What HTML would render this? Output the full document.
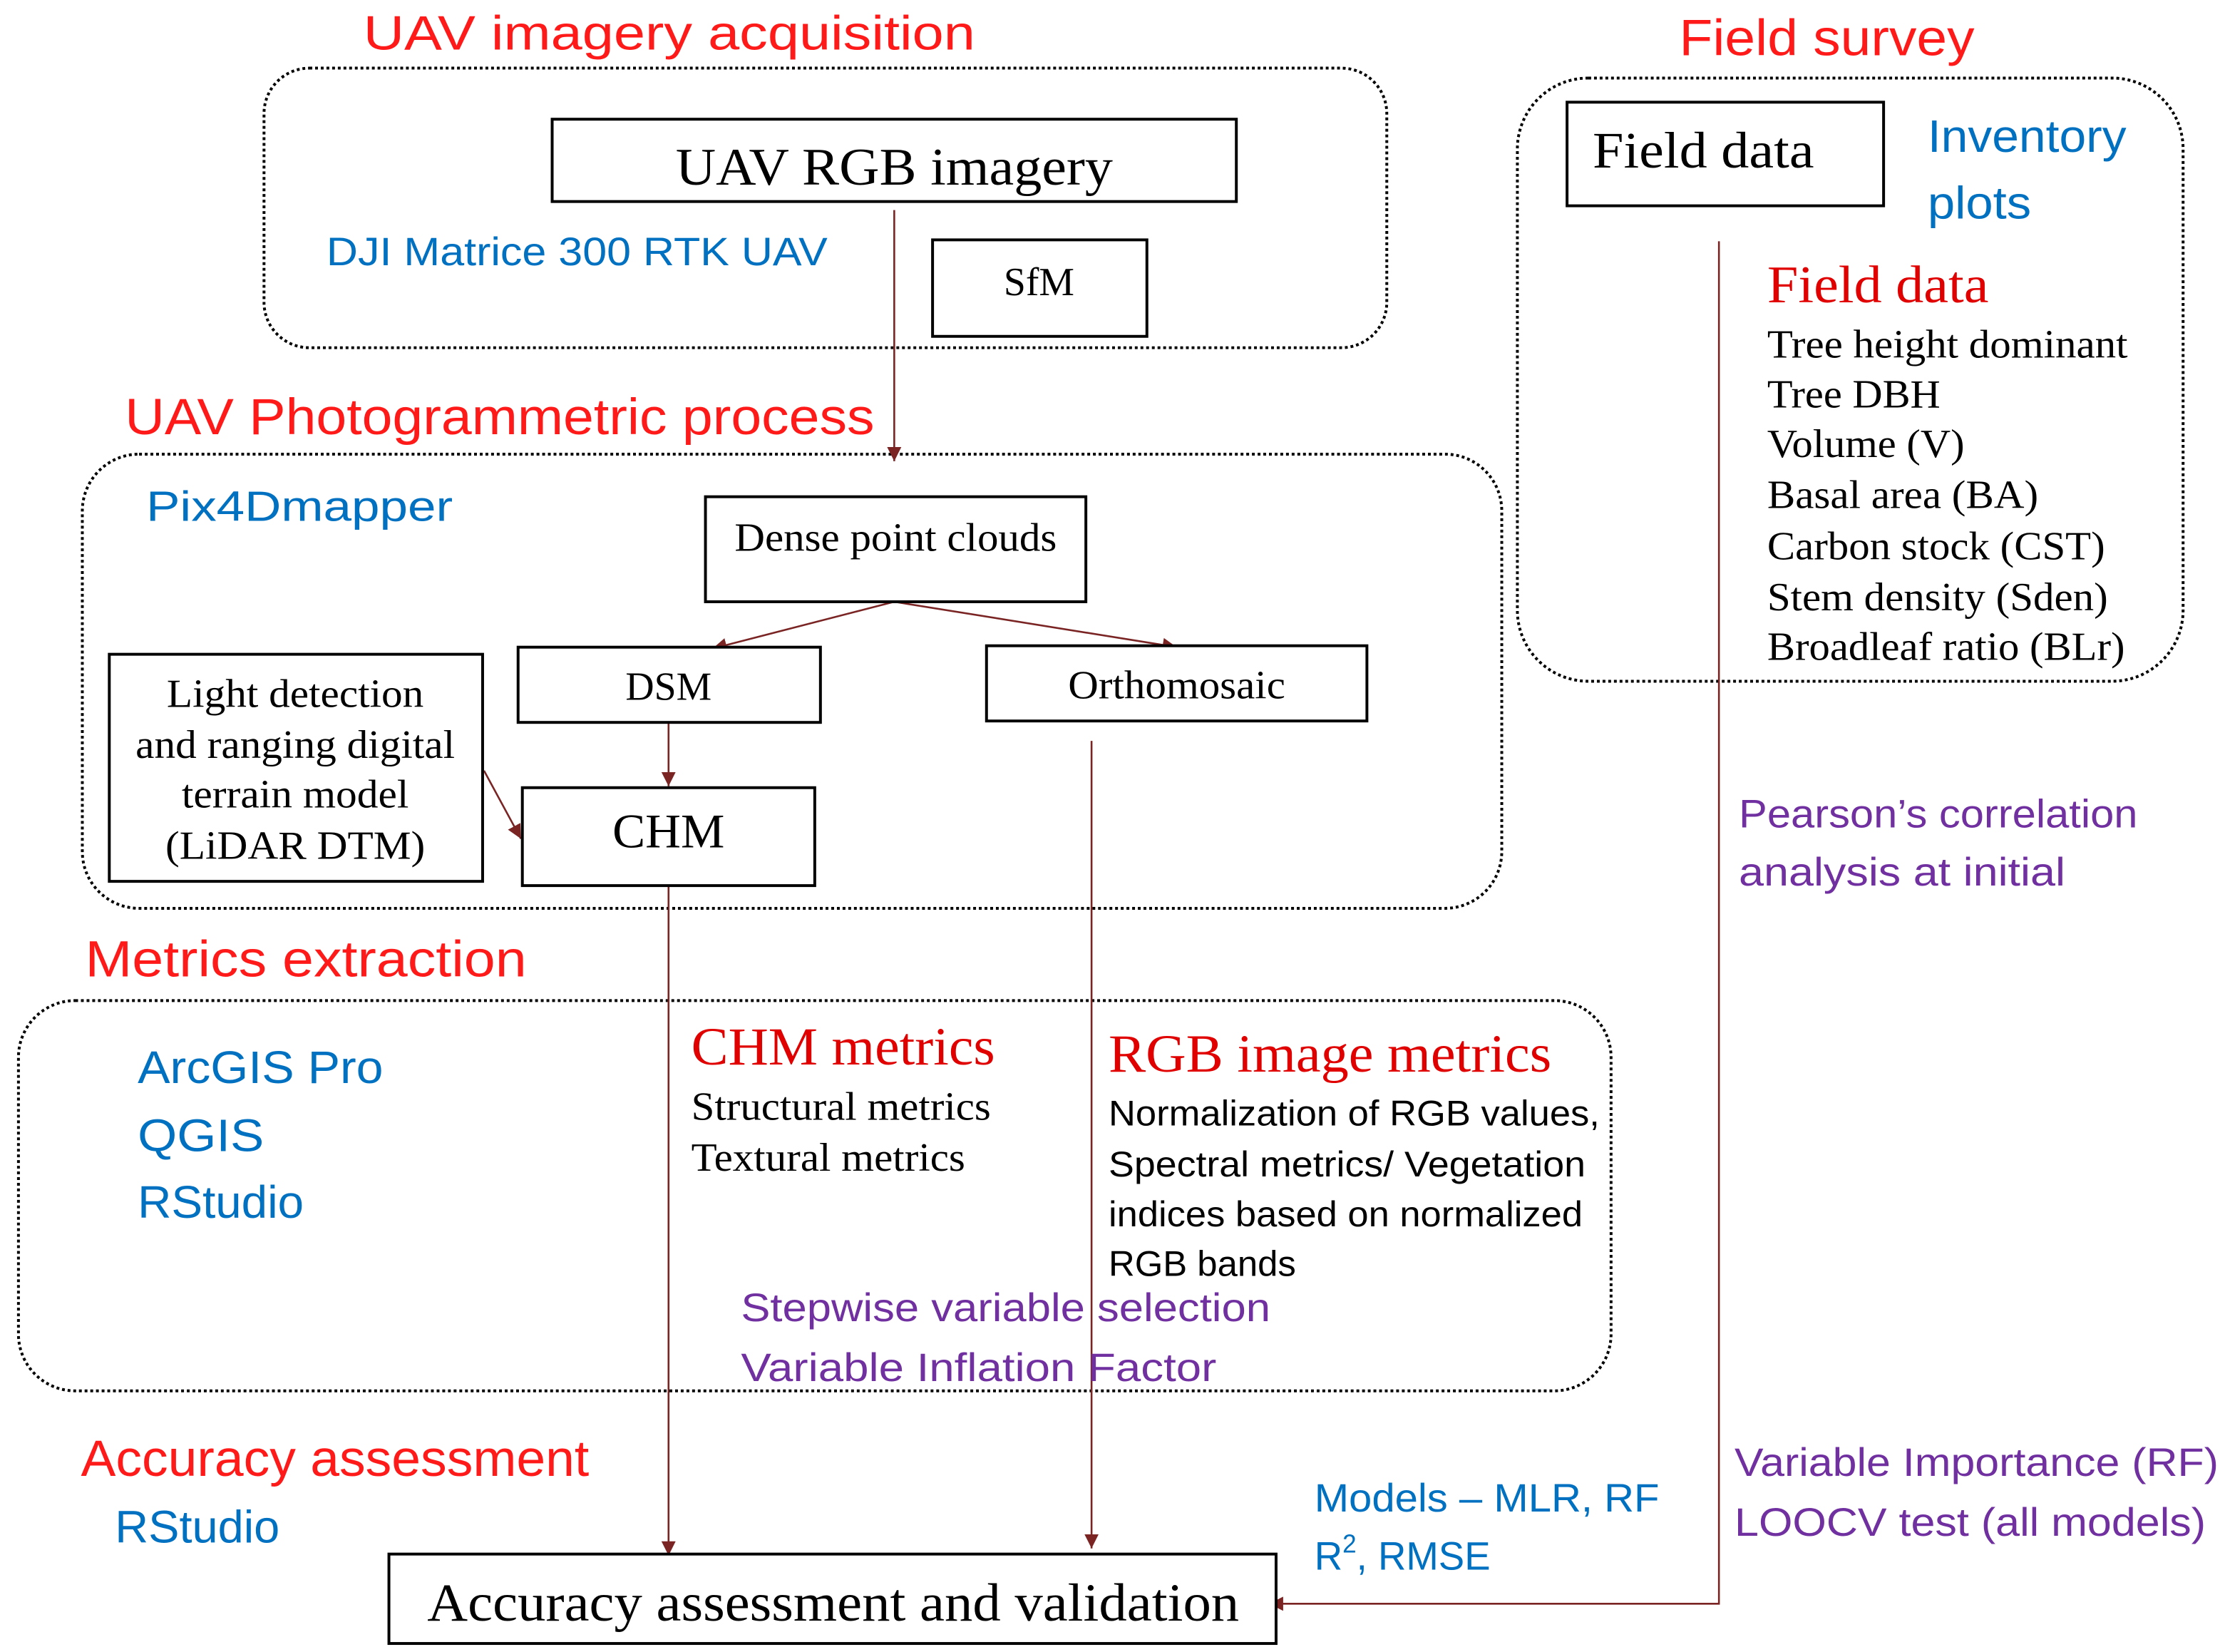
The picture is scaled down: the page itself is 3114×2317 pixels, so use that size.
<!DOCTYPE html>
<html><head><meta charset="utf-8"><style>
html,body{margin:0;padding:0;background:#fff;}
svg{display:block;}
.h{font-family:"Liberation Sans",sans-serif;fill:#ff1a1a;}
.b{font-family:"Liberation Sans",sans-serif;fill:#0070c0;}
.p{font-family:"Liberation Sans",sans-serif;fill:#7030a0;}
.s{font-family:"Liberation Serif",serif;fill:#000;}
.sr{font-family:"Liberation Serif",serif;fill:#e00000;}
.k{font-family:"Liberation Sans",sans-serif;fill:#000;}
.box{fill:#fff;stroke:#000;stroke-width:2;}
.dot{fill:none;stroke:#000;stroke-width:2;stroke-dasharray:2 2;}
.ln{stroke:#7a2424;stroke-width:1.3;fill:none;}
</style></head><body>
<svg width="3114" height="2317" viewBox="0 0 1564 1164" preserveAspectRatio="none" xmlns="http://www.w3.org/2000/svg">
<defs><marker id="a" viewBox="0 0 10 10" refX="10" refY="5" markerWidth="10" markerHeight="10" markerUnits="userSpaceOnUse" orient="auto"><path d="M0,0 L10,5 L0,10 z" fill="#7a2424"/></marker></defs>

<!-- dotted containers -->
<rect class="dot" x="186" y="48" width="791" height="197" rx="32"/>
<rect class="dot" x="58" y="320" width="1000" height="320" rx="40"/>
<rect class="dot" x="1069" y="55" width="469" height="425" rx="50"/>
<rect class="dot" x="13" y="705" width="1122" height="275" rx="40"/>

<!-- connectors -->
<line class="ln" x1="630" y1="148" x2="630" y2="325" marker-end="url(#a)"/>
<line class="ln" x1="630" y1="424" x2="502" y2="457" marker-end="url(#a)"/>
<line class="ln" x1="630" y1="424" x2="829" y2="456" marker-end="url(#a)"/>
<line class="ln" x1="471" y1="509" x2="471" y2="554" marker-end="url(#a)"/>
<line class="ln" x1="341" y1="543" x2="367" y2="591" marker-end="url(#a)"/>
<line class="ln" x1="471" y1="624" x2="471" y2="1096" marker-end="url(#a)"/>
<line class="ln" x1="769" y1="522" x2="769" y2="1091" marker-end="url(#a)"/>
<polyline class="ln" points="1211,170 1211,1130 894,1130" marker-end="url(#a)"/>

<!-- titles -->
<text class="h" x="256" y="35" font-size="34" textLength="431" lengthAdjust="spacingAndGlyphs">UAV imagery acquisition</text>
<text class="h" x="88" y="306" font-size="36" textLength="528" lengthAdjust="spacingAndGlyphs">UAV Photogrammetric process</text>
<text class="h" x="1183" y="39" font-size="36" textLength="208" lengthAdjust="spacingAndGlyphs">Field survey</text>
<text class="h" x="60" y="688" font-size="36" textLength="311" lengthAdjust="spacingAndGlyphs">Metrics extraction</text>
<text class="h" x="57" y="1040" font-size="36" textLength="358" lengthAdjust="spacingAndGlyphs">Accuracy assessment</text>

<!-- section 1 -->
<rect class="box" x="389" y="84" width="482" height="58"/>
<text class="s" x="630" y="130" font-size="37" text-anchor="middle" textLength="308" lengthAdjust="spacingAndGlyphs">UAV RGB imagery</text>
<text class="b" x="230" y="187" font-size="28" textLength="353" lengthAdjust="spacingAndGlyphs">DJI Matrice 300 RTK UAV</text>
<rect class="box" x="657" y="169" width="151" height="68"/>
<text class="s" x="732" y="208" font-size="28" text-anchor="middle">SfM</text>

<!-- section 2 -->
<text class="b" x="103" y="367" font-size="30" textLength="216" lengthAdjust="spacingAndGlyphs">Pix4Dmapper</text>
<rect class="box" x="497" y="350" width="268" height="74"/>
<text class="s" x="631" y="388" font-size="28" text-anchor="middle" textLength="227" lengthAdjust="spacingAndGlyphs">Dense point clouds</text>
<rect class="box" x="365" y="456" width="213" height="53"/>
<text class="s" x="471" y="493" font-size="28" text-anchor="middle">DSM</text>
<rect class="box" x="695" y="455" width="268" height="53"/>
<text class="s" x="829" y="492" font-size="28" text-anchor="middle" textLength="153" lengthAdjust="spacingAndGlyphs">Orthomosaic</text>
<rect class="box" x="77" y="461" width="263" height="160"/>
<text class="s" x="208" y="498" font-size="28" text-anchor="middle" textLength="181" lengthAdjust="spacingAndGlyphs">Light detection</text>
<text class="s" x="208" y="534" font-size="28" text-anchor="middle" textLength="225" lengthAdjust="spacingAndGlyphs">and ranging digital</text>
<text class="s" x="208" y="569" font-size="28" text-anchor="middle" textLength="160" lengthAdjust="spacingAndGlyphs">terrain model</text>
<text class="s" x="208" y="605" font-size="28" text-anchor="middle" textLength="183" lengthAdjust="spacingAndGlyphs">(LiDAR DTM)</text>
<rect class="box" x="368" y="555" width="206" height="69"/>
<text class="s" x="471" y="597" font-size="34" text-anchor="middle" textLength="79" lengthAdjust="spacingAndGlyphs">CHM</text>

<!-- field survey -->
<rect class="box" x="1104" y="72" width="223" height="73"/>
<text class="s" x="1122" y="118" font-size="36" textLength="156" lengthAdjust="spacingAndGlyphs">Field data</text>
<text class="b" x="1358" y="107" font-size="32" textLength="140" lengthAdjust="spacingAndGlyphs">Inventory</text>
<text class="b" x="1358" y="154" font-size="32" textLength="73" lengthAdjust="spacingAndGlyphs">plots</text>
<text class="sr" x="1245" y="213" font-size="37" textLength="156" lengthAdjust="spacingAndGlyphs">Field data</text>
<g class="s" font-size="28">
<text x="1245" y="252" textLength="254" lengthAdjust="spacingAndGlyphs">Tree height dominant</text>
<text x="1245" y="287" textLength="122" lengthAdjust="spacingAndGlyphs">Tree DBH</text>
<text x="1245" y="322" textLength="139" lengthAdjust="spacingAndGlyphs">Volume (V)</text>
<text x="1245" y="358" textLength="191" lengthAdjust="spacingAndGlyphs">Basal area (BA)</text>
<text x="1245" y="394" textLength="238" lengthAdjust="spacingAndGlyphs">Carbon stock (CST)</text>
<text x="1245" y="430" textLength="240" lengthAdjust="spacingAndGlyphs">Stem density (Sden)</text>
<text x="1245" y="465" textLength="252" lengthAdjust="spacingAndGlyphs">Broadleaf ratio (BLr)</text>
</g>
<text class="p" x="1225" y="583" font-size="28" textLength="281" lengthAdjust="spacingAndGlyphs">Pearson’s correlation</text>
<text class="p" x="1225" y="624" font-size="28" textLength="230" lengthAdjust="spacingAndGlyphs">analysis at initial</text>

<!-- metrics -->
<text class="b" x="97" y="763" font-size="32" textLength="173" lengthAdjust="spacingAndGlyphs">ArcGIS Pro</text>
<text class="b" x="97" y="811" font-size="32" textLength="89" lengthAdjust="spacingAndGlyphs">QGIS</text>
<text class="b" x="97" y="858" font-size="32" textLength="117" lengthAdjust="spacingAndGlyphs">RStudio</text>
<text class="sr" x="487" y="750" font-size="38" textLength="214" lengthAdjust="spacingAndGlyphs">CHM metrics</text>
<text class="s" x="487" y="789" font-size="28" textLength="211" lengthAdjust="spacingAndGlyphs">Structural metrics</text>
<text class="s" x="487" y="825" font-size="28" textLength="193" lengthAdjust="spacingAndGlyphs">Textural metrics</text>
<text class="sr" x="781" y="755" font-size="38" textLength="312" lengthAdjust="spacingAndGlyphs">RGB image metrics</text>
<g class="k" font-size="25">
<text x="781" y="793" textLength="346" lengthAdjust="spacingAndGlyphs">Normalization of RGB values,</text>
<text x="781" y="829" textLength="336" lengthAdjust="spacingAndGlyphs">Spectral metrics/ Vegetation</text>
<text x="781" y="864" textLength="334" lengthAdjust="spacingAndGlyphs">indices based on normalized</text>
<text x="781" y="899" textLength="132" lengthAdjust="spacingAndGlyphs">RGB bands</text>
</g>
<text class="p" x="522" y="931" font-size="28" textLength="373" lengthAdjust="spacingAndGlyphs">Stepwise variable selection</text>
<text class="p" x="522" y="973" font-size="28" textLength="335" lengthAdjust="spacingAndGlyphs">Variable Inflation Factor</text>

<!-- accuracy -->
<text class="b" x="81" y="1087" font-size="32" textLength="116" lengthAdjust="spacingAndGlyphs">RStudio</text>
<rect class="box" x="274" y="1095" width="625" height="63"/>
<text class="s" x="587" y="1142" font-size="38" text-anchor="middle" textLength="572" lengthAdjust="spacingAndGlyphs">Accuracy assessment and validation</text>
<text class="b" x="926" y="1065" font-size="28" textLength="243" lengthAdjust="spacingAndGlyphs">Models – MLR, RF</text>
<text class="b" x="926" y="1106" font-size="28" textLength="124" lengthAdjust="spacingAndGlyphs">R<tspan font-size="18" dy="-12">2</tspan><tspan dy="12">, RMSE</tspan></text>
<text class="p" x="1222" y="1040" font-size="28" textLength="341" lengthAdjust="spacingAndGlyphs">Variable Importance (RF)</text>
<text class="p" x="1222" y="1082" font-size="28" textLength="332" lengthAdjust="spacingAndGlyphs">LOOCV test (all models)</text>
</svg>
</body></html>
